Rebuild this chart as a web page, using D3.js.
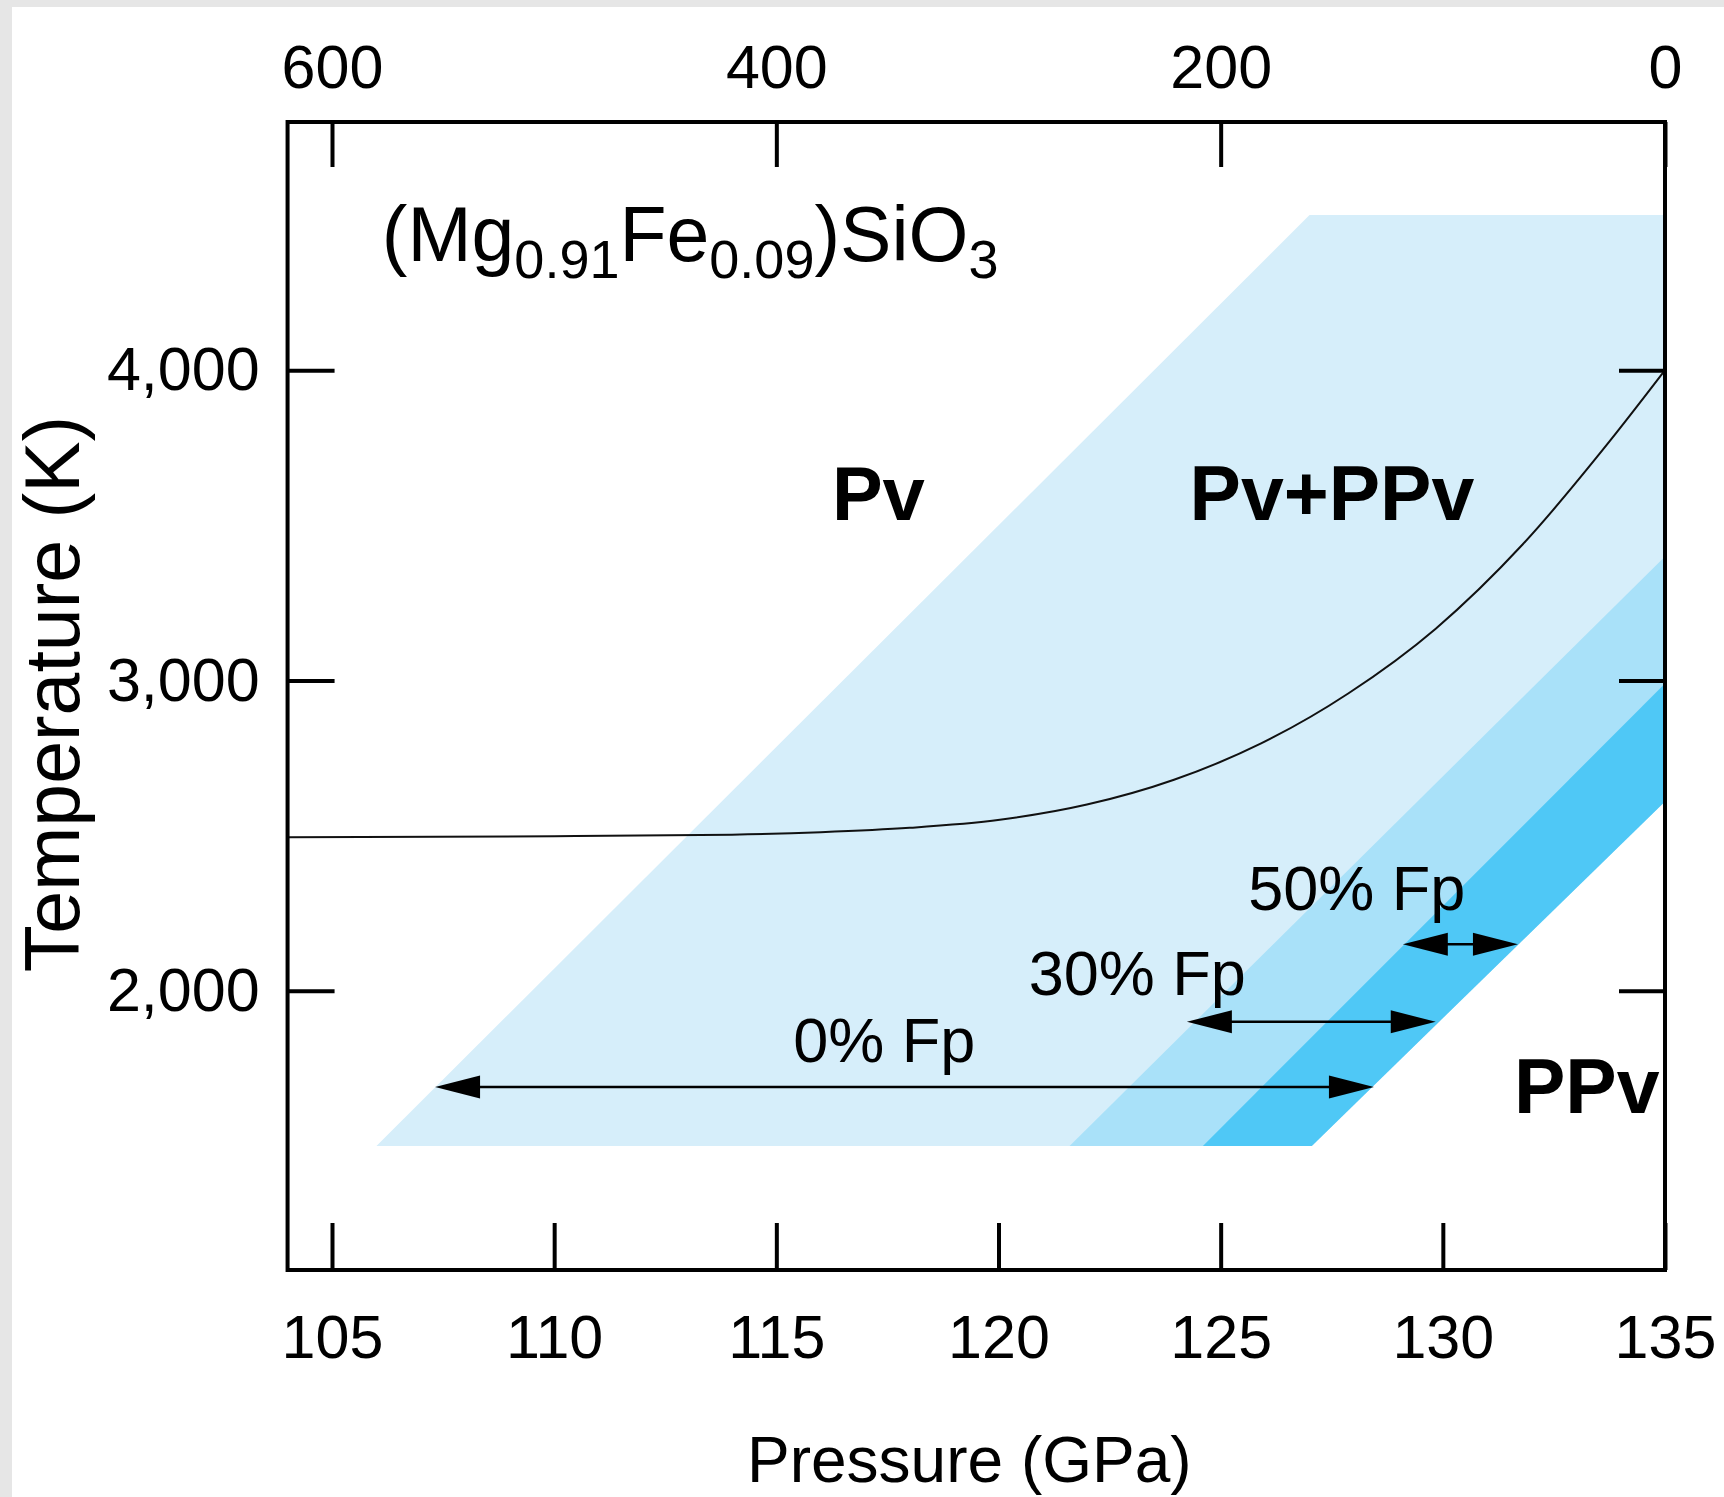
<!DOCTYPE html>
<html><head><meta charset="utf-8">
<script src="https://cdn.jsdelivr.net/npm/d3@7"></script>
<style>
html,body{margin:0;padding:0;background:#e6e6e6;}
svg{display:block;}
</style></head><body>
<svg id="chart" width="1724" height="1497"></svg>
<script>
// Bottom axis: pressure (GPa)
const pressureTicks = [105, 110, 115, 120, 125, 130, 135];
// Top axis: height above the core-mantle boundary (km)
const heightTicks = [600, 400, 200, 0];
// Temperature ticks (K)
const tempTicks = [2000, 3000, 4000];

// Two-phase loops for different ferropericlase contents: vertices [P (GPa), T (K)]
const bandNames = ["0% Fp", "30% Fp", "50% Fp"];
const bandColors = ["#d6eefa", "#a9e1f9", "#4fc8f6"];
const band0 = [[106, 1500], [127, 4500], [135, 4500], [135, 2610], [127.05, 1500]];
const band30 = [[121.6, 1500], [135, 3400], [135, 2610], [127.05, 1500]];
const band50 = [[124.6, 1500], [135, 2990], [135, 2610], [127.05, 1500]];

// Temperature profile above the CMB
const curveP = [104, 110, 114, 116, 118, 120.03, 121.99, 123.95, 125.91, 127.87, 129.84, 131.8, 133.76, 135];
const curveT = [2495, 2498, 2503, 2511, 2525, 2551, 2600, 2680, 2797, 2958, 3167, 3439, 3772, 4000];

// Width of each two-phase loop, drawn as double arrows at a given temperature
const arrowT = [1690, 1900, 2150];
const arrowP0 = [107.32, 124.24, 129.1];
const arrowP1 = [128.45, 129.84, 131.69];

const svg = d3.select("#chart");
const FONT = "'Liberation Sans', Arial, Helvetica, sans-serif";

// white sheet
svg.append("rect").attr("x", 12).attr("y", 7).attr("width", 1724).attr("height", 1497).attr("fill", "#ffffff");

const x = d3.scaleLinear().domain([105, 135]).range([332, 1665]);
const y = d3.scaleLinear().domain([1100, 4800]).range([1270, 122]);
const xTop = d3.scaleLinear().domain([600, 0]).range([x(105), x(135)]);
const pMin = 104, pMax = 135, tMin = 1100, tMax = 4800;

// bands
const bands = [band0, band30, band50];
const poly = d3.line().x(d => x(d[0])).y(d => y(d[1]));
svg.append("g").selectAll("path").data(bands).join("path")
  .attr("d", d => poly(d) + "Z")
  .attr("fill", (d, i) => bandColors[i]);

// temperature curve
const curveData = curveP.map((p, i) => [p, curveT[i]]);
svg.append("path")
  .attr("d", d3.line().x(d => x(d[0])).y(d => y(d[1])).curve(d3.curveMonotoneX)(curveData))
  .attr("fill", "none").attr("stroke", "#111").attr("stroke-width", 2);

// arrows
const headLen = 45, headHalf = 11.5;
const ag = svg.append("g");
arrowT.forEach((t, i) => {
  const yy = y(t), xa = x(arrowP0[i]), xb = x(arrowP1[i]);
  ag.append("line").attr("x1", xa + 10).attr("x2", xb - 10).attr("y1", yy).attr("y2", yy)
    .attr("stroke", "#000").attr("stroke-width", 2.5);
  ag.append("path").attr("d", `M${xa},${yy}L${xa + headLen},${yy - headHalf}L${xa + headLen},${yy + headHalf}Z`).attr("fill", "#000");
  ag.append("path").attr("d", `M${xb},${yy}L${xb - headLen},${yy - headHalf}L${xb - headLen},${yy + headHalf}Z`).attr("fill", "#000");
});

// region and band labels
const txt = (s, p, t, size, weight) => svg.append("text")
  .attr("x", x(p)).attr("y", y(t))
  .attr("font-family", FONT).attr("font-size", size).attr("font-weight", weight || "normal")
  .attr("fill", "#000").text(s);

txt("Pv", 116.25, 3517, 76, "bold");
txt("Pv+PPv", 124.3, 3517, 77, "bold");
txt("PPv", 131.6, 1606, 77, "bold");
txt(bandNames[2], 125.62, 2260, 63);
txt(bandNames[1], 120.68, 1986, 63);
txt(bandNames[0], 115.38, 1770, 63);

// composition label with subscripts
const f = svg.append("text").attr("x", x(106.12)).attr("y", y(4352))
  .attr("font-family", FONT).attr("font-size", 77).attr("fill", "#000");
const parts = [["(Mg", 0], ["0.91", 1], ["Fe", 0], ["0.09", 1], [")SiO", 0], ["3", 1]];
parts.forEach(([s, sub], i) => {
  const ts = f.append("tspan").text(s);
  if (sub) ts.attr("font-size", 54).attr("dy", 17);
  else if (i > 0) ts.attr("dy", -17);
});

// axes: ticks point inward, frame drawn separately
const styleAxis = (g, size) => {
  g.select(".domain").remove();
  g.selectAll(".tick line").attr("stroke", "#000").attr("stroke-width", 4);
  g.selectAll(".tick text").attr("font-family", FONT).attr("font-size", size).attr("fill", "#000");
};

svg.append("g").attr("transform", `translate(0,${y(tMin)})`)
  .call(d3.axisBottom(x).tickValues(pressureTicks).tickSize(-47).tickPadding(45).tickFormat(d3.format("d")))
  .call(g => styleAxis(g, 61));

svg.append("g").attr("transform", `translate(0,${y(tMax)})`)
  .call(d3.axisTop(xTop).tickValues(heightTicks).tickSize(-45).tickPadding(34).tickFormat(d3.format("d")))
  .call(g => styleAxis(g, 61));

svg.append("g").attr("transform", `translate(${x(pMin)},0)`)
  .call(d3.axisLeft(y).tickValues(tempTicks).tickSize(-47).tickPadding(28).tickFormat(d3.format(",")))
  .call(g => styleAxis(g, 61));

svg.append("g").attr("transform", `translate(${x(pMax)},0)`)
  .call(d3.axisRight(y).tickValues(tempTicks).tickSize(-46).tickFormat(""))
  .call(g => styleAxis(g, 61));

// frame
svg.append("rect")
  .attr("x", x(pMin)).attr("y", y(tMax))
  .attr("width", x(pMax) - x(pMin)).attr("height", y(tMin) - y(tMax))
  .attr("fill", "none").attr("stroke", "#000").attr("stroke-width", 4);

// axis titles
svg.append("text").attr("x", (x(pMin) + x(pMax)) / 2 - 7).attr("y", 1482)
  .attr("text-anchor", "middle").attr("font-family", FONT).attr("font-size", 64)
  .attr("fill", "#000").text("Pressure (GPa)");
svg.append("text").attr("transform", "translate(79,694) rotate(-90)")
  .attr("text-anchor", "middle").attr("font-family", FONT).attr("font-size", 77)
  .attr("fill", "#000").text("Temperature (K)");
</script>
</body></html>
